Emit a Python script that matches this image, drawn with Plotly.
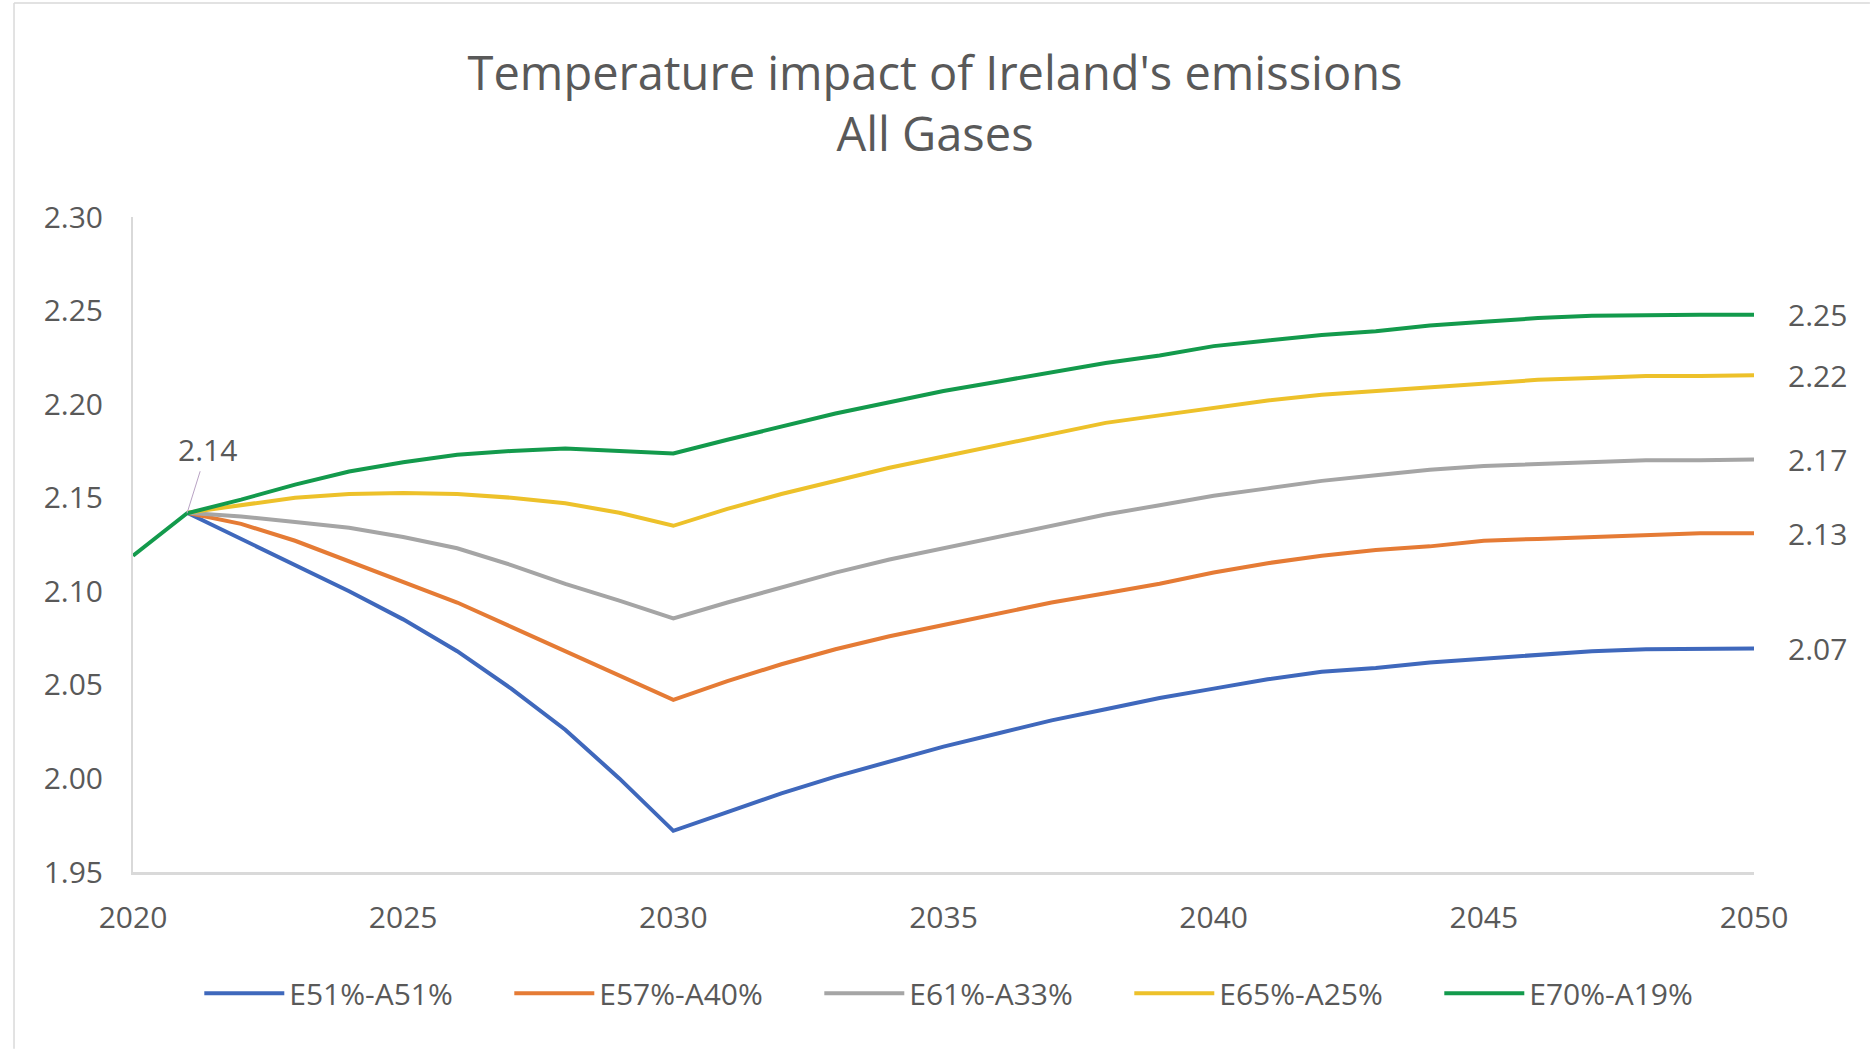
import plotly.graph_objects as go

years = list(range(2020, 2051))

names = ["E51%-A51%", "E57%-A40%", "E61%-A33%", "E65%-A25%", "E70%-A19%"]
colors = ["#3F68BC", "#E57B35", "#A5A5A5", "#EDC12A", "#139A4C"]

e51_a51 = [None, 2.142, 2.128, 2.114, 2.100, 2.085, 2.068, 2.048, 2.026, 2.000, 1.972,
           1.982, 1.992, 2.001, 2.009, 2.017, 2.024, 2.031, 2.037, 2.043, 2.048,
           2.053, 2.057, 2.059, 2.062, 2.064, 2.066, 2.068, 2.069, 2.0693, 2.0694]
e57_a40 = [None, 2.142, 2.136, 2.127, 2.116, 2.105, 2.094, 2.081, 2.068, 2.055, 2.042,
           2.052, 2.061, 2.069, 2.076, 2.082, 2.088, 2.094, 2.099, 2.104, 2.110,
           2.115, 2.119, 2.122, 2.124, 2.127, 2.128, 2.129, 2.130, 2.131, 2.131]
e61_a33 = [None, 2.142, 2.140, 2.137, 2.134, 2.129, 2.123, 2.114, 2.104, 2.095, 2.0855,
           2.094, 2.102, 2.110, 2.117, 2.123, 2.129, 2.135, 2.141, 2.146, 2.151,
           2.155, 2.159, 2.162, 2.165, 2.167, 2.168, 2.169, 2.170, 2.170, 2.1704]
e65_a25 = [None, 2.142, 2.146, 2.150, 2.152, 2.1525, 2.152, 2.150, 2.147, 2.142, 2.135,
           2.144, 2.152, 2.159, 2.166, 2.172, 2.178, 2.184, 2.190, 2.194, 2.198,
           2.202, 2.205, 2.207, 2.209, 2.211, 2.213, 2.214, 2.215, 2.215, 2.2154]
e70_a19 = [2.119, 2.1417, 2.149, 2.157, 2.164, 2.169, 2.173, 2.175, 2.1763, 2.175, 2.1736,
           2.181, 2.188, 2.195, 2.201, 2.207, 2.212, 2.217, 2.222, 2.226, 2.231,
           2.234, 2.237, 2.239, 2.242, 2.244, 2.246, 2.2472, 2.2476, 2.2478, 2.2478]

series = [e51_a51, e57_a40, e61_a33, e65_a25, e70_a19]

y_ticks = [1.95, 2.00, 2.05, 2.10, 2.15, 2.20, 2.25, 2.30]
x_ticks = [2020, 2025, 2030, 2035, 2040, 2045, 2050]

title_line1 = "Temperature impact of Ireland's emissions"
title_line2 = "All Gases"

FONT = "Open Sans, Noto Sans, sans-serif"
TXT = "#595959"

fig = go.Figure()
for name, vals, col in zip(names, series, colors):
    fig.add_trace(go.Scatter(x=years, y=vals, name=name, mode="lines",
                             line=dict(color=col, width=4), connectgaps=False))

annotations = []
for vals in series:
    annotations.append(dict(x=years[-1], y=vals[-1], xref="x", yref="y",
                            text=f"{vals[-1]:.2f}", showarrow=False,
                            xanchor="left", yanchor="middle", xshift=32,
                            font=dict(family=FONT, size=30, color=TXT)))
annotations.append(dict(x=years[1], y=e70_a19[1], xref="x", yref="y",
                        text=f"{e70_a19[1]:.2f}", showarrow=True, arrowhead=0,
                        arrowwidth=1, arrowcolor="#B9A3C4", ax=20, ay=-64,
                        standoff=0,
                        font=dict(family=FONT, size=30, color=TXT)))

fig.update_layout(
    width=1870, height=1050,
    margin=dict(l=133, r=116, t=217, b=178),
    paper_bgcolor="white", plot_bgcolor="white",
    font=dict(family=FONT, color=TXT, size=30),
    title=dict(text=title_line1 + "<br>" + title_line2,
               x=0.5, xanchor="center", xref="container",
               y=1 - 90 / 1050, yanchor="middle", yref="container",
               font=dict(family=FONT, size=47, color=TXT)),
    showlegend=True,
    legend=dict(orientation="h", x=0.519, xanchor="center", y=-0.185,
                yanchor="middle", font=dict(family=FONT, size=30, color=TXT),
                entrywidth=215, entrywidthmode="pixels", itemwidth=80,
                traceorder="normal"),
    annotations=annotations,
    shapes=[
        dict(type="line", xref="paper", yref="paper", x0=-0.0734, x1=-0.0734,
             y0=-0.27, y1=1.3267, line=dict(color="#D9D9D9", width=1.5)),
        dict(type="line", xref="paper", yref="paper", x0=-0.0734, x1=1.0715,
             y0=1.3267, y1=1.3267, line=dict(color="#D9D9D9", width=1.5)),
    ],
)

fig.update_xaxes(range=[2020, 2050], tickvals=x_ticks, ticktext=[str(v) for v in x_ticks],
                 showgrid=False, zeroline=False, showline=True, linecolor="#D9D9D9",
                 linewidth=3, ticks="", ticklabelstandoff=17,
                 tickfont=dict(family=FONT, size=30, color=TXT))
fig.update_yaxes(range=[1.95, 2.30], tickvals=y_ticks, ticktext=[f"{v:.2f}" for v in y_ticks],
                 showgrid=False, zeroline=False, showline=True, linecolor="#D9D9D9",
                 linewidth=2, ticks="", ticklabelstandoff=22,
                 tickfont=dict(family=FONT, size=30, color=TXT))

fig.write_html("out.html")
